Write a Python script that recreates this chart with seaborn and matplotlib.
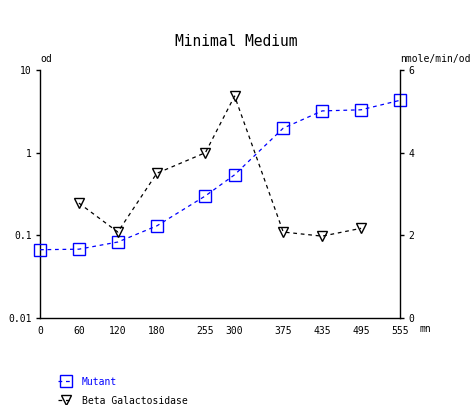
import matplotlib
matplotlib.use("Agg")
import matplotlib.pyplot as plt
import seaborn as sns

minutes = [0, 60, 120, 180, 255, 300, 375, 435, 495, 555]
mutant_od = [0.067, 0.068, 0.083, 0.13, 0.30, 0.54, 1.98, 3.2, 3.3, 4.3]
betagal_min = [60, 120, 180, 255, 300, 375, 435, 495]
betagal = [2.78, 2.08, 3.5, 4.0, 5.37, 2.08, 1.98, 2.17]

xticks = [0, 60, 120, 180, 255, 300, 375, 435, 495, 555]
left_ticks = [0.01, 0.1, 1, 10]
left_labels = ["0.01", "0.1", "1", "10"]
right_ticks = [0, 2, 4, 6]

sns.set_style("white")
plt.rcParams["font.family"] = ["DejaVu Sans Mono"]
plt.rcParams["text.color"] = "black"
FS = 7

fig = plt.figure(figsize=(4.72, 4.05), dpi=100)
ax = fig.add_axes([40 / 472, 87 / 405, 360 / 472, 248 / 405])
ax2 = ax.twinx()

sns.lineplot(x=minutes, y=mutant_od, ax=ax, color="#0000ff", marker="s",
             markersize=8, markerfacecolor="none", markeredgecolor="#0000ff",
             markeredgewidth=1, linewidth=0.9, linestyle=(0, (3, 3)), label="Mutant",
             legend=False, clip_on=False, zorder=5)
sns.lineplot(x=betagal_min, y=betagal, ax=ax2, color="black", marker="v",
             markersize=7.5, markerfacecolor="none", markeredgecolor="black",
             markeredgewidth=1, linewidth=0.9, linestyle=(0, (3, 3)),
             label="Beta Galactosidase", legend=False, clip_on=False)

ax.set_yscale("log")
ax.set_ylim(0.01, 10)
ax.set_yticks(left_ticks)
ax.set_yticklabels(left_labels)
ax.minorticks_off()
ax.set_xlim(0, 555)
ax.set_xticks(xticks)
ax.set_xticklabels([str(v) for v in xticks])
ax2.set_ylim(0, 6)
ax2.set_yticks(right_ticks)
ax2.set_yticklabels([str(v) for v in right_ticks])

for a in (ax, ax2):
    a.spines["top"].set_visible(False)
    for s in ("left", "right", "bottom"):
        a.spines[s].set_color("black")
        a.spines[s].set_linewidth(1)
    a.tick_params(axis="both", which="both", direction="out", length=3,
                  width=1, colors="black", labelsize=FS, pad=3)
ax.spines["right"].set_visible(False)
ax2.spines["left"].set_visible(False)
ax2.spines["bottom"].set_visible(False)
ax.set_xlabel("")
ax.set_ylabel("")
ax2.set_ylabel("")

fig.text(236 / 472, 1 - 42 / 405, "Minimal Medium", ha="center", va="center",
         fontsize=10.5)
fig.text(40 / 472, 1 - 59 / 405, "od", ha="left", va="center", fontsize=FS)
fig.text(400 / 472, 1 - 59 / 405, "nmole/min/od", ha="left", va="center", fontsize=FS)
fig.text(420 / 472, 1 - 329 / 405, "mn", ha="left", va="center", fontsize=FS)

h1, l1 = ax.get_legend_handles_labels()
h2, l2 = ax2.get_legend_handles_labels()
leg = fig.legend(h1 + h2, l1 + l2, loc="upper left",
                 bbox_to_anchor=(49 / 472, 1 - 368 / 405), frameon=False,
                 fontsize=FS, handlelength=1.6, handletextpad=0.9,
                 labelspacing=0.9)
leg.get_texts()[0].set_color("#0000ff")

fig.savefig("out.png", dpi=100)
